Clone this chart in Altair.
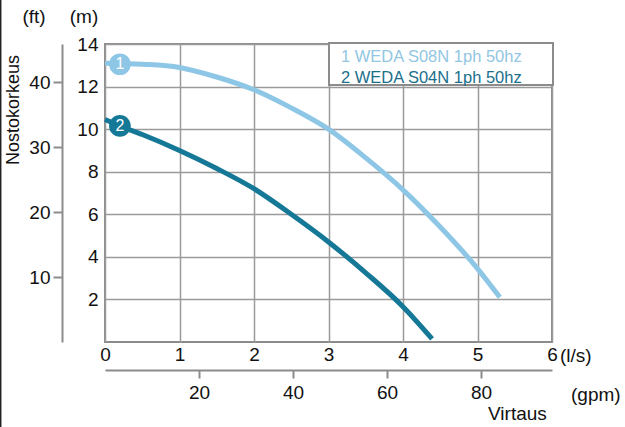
import altair as alt
import pandas as pd

# ---- data ----
series_names = ["1 WEDA S08N 1ph 50hz", "2 WEDA S04N 1ph 50hz"]
series_ids = ["1", "2"]
series_colors = ["#8ec7e6", "#157897"]

flow_s1 = [0.0, 0.5, 1.0, 1.5, 2.0, 2.5, 3.0, 3.5, 4.0, 4.5, 5.0, 5.3]
head_s1 = [13.1, 13.05, 12.9, 12.45, 11.85, 11.0, 10.0, 8.65, 7.15, 5.4, 3.45, 2.1]

flow_s2 = [0.0, 0.2, 0.5, 1.0, 1.5, 2.0, 2.5, 3.0, 3.5, 4.0, 4.39]
head_s2 = [10.45, 10.15, 9.75, 9.0, 8.15, 7.2, 6.0, 4.7, 3.25, 1.66, 0.15]

marker_flow = [0.2, 0.2]
marker_head = [13.05, 10.15]

ls_ticks = [0, 1, 2, 3, 4, 5, 6]
m_ticks = [2, 4, 6, 8, 10, 12, 14]
gpm_ticks = [20, 40, 60, 80]
ft_ticks = [10, 20, 30, 40]

LS_MAX = 6
M_MAX = 14
GPM_MAX = LS_MAX / 0.0630902
FT_MAX = M_MAX * 3.28084

FONT = "Liberation Sans"
GRAY = "#8c8c8c"
NUM_SIZE = 19

rows = []
for f, h in zip(flow_s1, head_s1):
    rows.append({"flow": f, "head": h, "series": series_ids[0]})
for f, h in zip(flow_s2, head_s2):
    rows.append({"flow": f, "head": h, "series": series_ids[1]})
df_lines = pd.DataFrame(rows)

df_markers = pd.DataFrame({"flow": marker_flow, "head": marker_head, "series": series_ids})

color_scale = alt.Scale(domain=series_ids, range=series_colors)
x_scale = alt.Scale(domain=[0, LS_MAX], nice=False, zero=True)
y_scale = alt.Scale(domain=[0, M_MAX], nice=False, zero=True)

lines = alt.Chart(df_lines).mark_line(strokeWidth=5, interpolate="monotone").encode(
    x=alt.X("flow:Q", scale=x_scale,
            axis=alt.Axis(values=ls_ticks, format="d", title=None, domain=False, ticks=False,
                          grid=True, gridColor="#9a9a9a", gridWidth=1.5,
                          labelFont=FONT, labelFontSize=NUM_SIZE, labelColor="#111",
                          labelPadding=3, labelFlush=False)),
    y=alt.Y("head:Q", scale=y_scale,
            axis=alt.Axis(values=m_ticks, format="d", title=None, domain=False, ticks=False,
                          grid=True, gridColor="#9a9a9a", gridWidth=1.5,
                          labelFont=FONT, labelFontSize=NUM_SIZE, labelColor="#111",
                          labelPadding=7)),
    color=alt.Color("series:N", scale=color_scale, legend=None),
    detail="series:N",
)

markers = alt.Chart(df_markers).mark_circle(size=470, opacity=1).encode(
    x=alt.X("flow:Q", scale=x_scale),
    y=alt.Y("head:Q", scale=y_scale),
    color=alt.Color("series:N", scale=color_scale, legend=None),
)

marker_text = alt.Chart(df_markers).mark_text(
    font=FONT, fontSize=16, color="white", baseline="middle", align="center"
).encode(
    x=alt.X("flow:Q", scale=x_scale),
    y=alt.Y("head:Q", scale=y_scale),
    text="series:N",
)

# legend box
legend_box = alt.Chart(alt.Data(values=[{}])).mark_rect(
    fill="white", stroke=GRAY, strokeWidth=2
).encode(x=alt.value(224), x2=alt.value(448), y=alt.value(-1), y2=alt.value(41))

legend_df = pd.DataFrame({"label": series_names, "series": series_ids})
legend_text_1 = alt.Chart(legend_df.iloc[[0]]).mark_text(
    font=FONT, fontSize=16.5, align="left", baseline="middle", color="#92c6e2"
).encode(x=alt.value(236), y=alt.value(13), text="label:N")
legend_text_2 = alt.Chart(legend_df.iloc[[1]]).mark_text(
    font=FONT, fontSize=16.5, align="left", baseline="middle", color="#1b6f8c"
).encode(x=alt.value(236), y=alt.value(34), text="label:N")


def label(txt, x, y, size=NUM_SIZE, angle=0, align="center"):
    return alt.Chart(alt.Data(values=[{"t": txt}])).mark_text(
        font=FONT, fontSize=size, color="#111", align=align, baseline="middle", angle=angle
    ).encode(x=alt.value(x), y=alt.value(y), text="t:N")


annotations = [
    label("(ft)", -71, -27),
    label("(m)", -21, -27),
    label("Nostokorkeus", -91, 66, size=18, angle=270),
    label("(l/s)", 455, 312, align="left"),
    label("(gpm)", 466, 351, align="left"),
    label("Virtaus", 383, 370, size=19, align="left"),
]

edge = alt.Chart(alt.Data(values=[{}])).mark_rule(color="#222", strokeWidth=1.5).encode(
    x=alt.value(-104.3), y=alt.value(-44), y2=alt.value(383)
)

inner = alt.layer(lines, markers, marker_text, legend_box, legend_text_1, legend_text_2,
                  edge, *annotations)

# secondary axes (gpm / ft)
df_sec = pd.DataFrame({"gpm": gpm_ticks, "ft": ft_ticks})
secondary = alt.Chart(df_sec).mark_point(opacity=0).encode(
    x=alt.X("gpm:Q", scale=alt.Scale(domain=[0, GPM_MAX], nice=False, zero=True),
            axis=alt.Axis(orient="bottom", offset=28, values=gpm_ticks, format="d", title=None,
                          grid=False, domain=True, domainColor=GRAY, domainWidth=2,
                          ticks=True, tickSize=8, tickColor=GRAY, tickWidth=2,
                          labelFont=FONT, labelFontSize=NUM_SIZE, labelColor="#111",
                          labelPadding=5, labelFlush=False)),
    y=alt.Y("ft:Q", scale=alt.Scale(domain=[0, FT_MAX], nice=False, zero=True),
            axis=alt.Axis(orient="left", offset=43, values=ft_ticks, format="d", title=None,
                          grid=False, domain=True, domainColor=GRAY, domainWidth=2,
                          ticks=True, tickSize=9, tickColor=GRAY, tickWidth=2,
                          labelFont=FONT, labelFontSize=NUM_SIZE, labelColor="#111",
                          labelPadding=3)),
)

chart = alt.layer(inner, secondary).resolve_scale(
    x="independent", y="independent"
).properties(
    width=447, height=298,
    autosize=alt.AutoSizeParams(type="none"),
    padding={"left": 105, "top": 44, "right": 73, "bottom": 85},
    background="white",
).configure_view(stroke=GRAY, strokeWidth=2)

chart.save("out.html", embed_options={"renderer": "svg", "actions": False})
